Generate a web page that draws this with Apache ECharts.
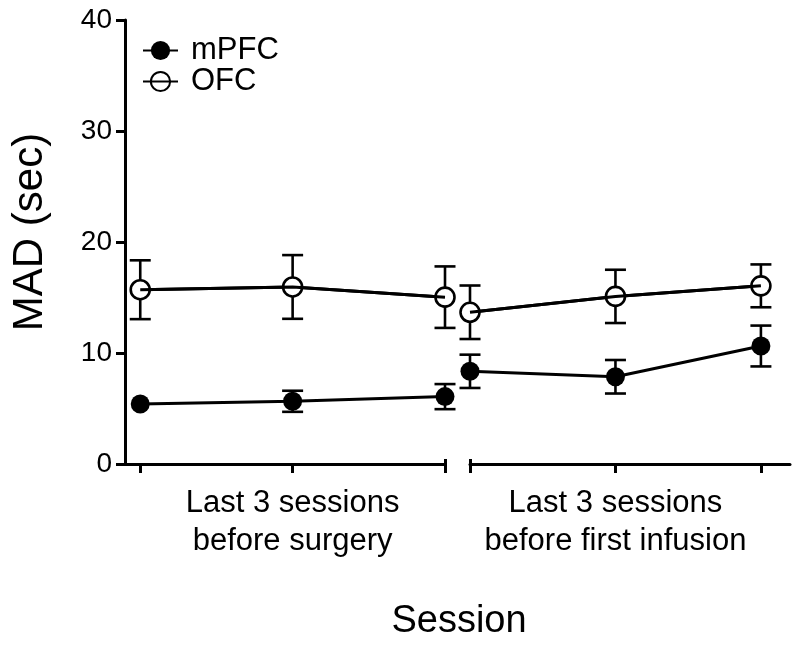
<!DOCTYPE html>
<html>
<head>
<meta charset="utf-8">
<script src="https://cdn.jsdelivr.net/npm/echarts@6/dist/echarts.min.js"></script>
<style>
html,body{margin:0;padding:0;background:#fff;}
#chart{width:800px;height:645px;}
</style>
</head>
<body>
<div id="chart"></div>
<script>
// ---- data ----
const groupLabels = ['Last 3 sessions\nbefore surgery', 'Last 3 sessions\nbefore first infusion'];
const sessionIdx = [1, 2, 3];
const yTicks = [0, 10, 20, 30, 40];
const mpfcSurgery = [5.4, 5.65, 6.07];
const mpfcSurgerySE = [0.4, 0.95, 1.13];
const ofcSurgery = [15.7, 15.95, 15.03];
const ofcSurgerySE = [2.65, 2.87, 2.77];
const mpfcInfusion = [8.35, 7.86, 10.63];
const mpfcInfusionSE = [1.5, 1.51, 1.84];
const ofcInfusion = [13.67, 15.1, 16.05];
const ofcInfusionSE = [2.41, 2.4, 1.93];

const FONT = '"Liberation Sans", Arial, Helvetica, sans-serif';
const SYMBOL = 19;
const chart = echarts.init(document.getElementById('chart'), null, {renderer: 'canvas'});

function pts(vals) { return sessionIdx.map((x, i) => [x, vals[i]]); }
function errPts(vals, se) { return sessionIdx.map((x, i) => [x, vals[i], se[i]]); }

function errRender(params, api) {
  const x = api.value(0), y = api.value(1), e = api.value(2);
  const top = api.coord([x, y + e]);
  const bot = api.coord([x, y - e]);
  // error bars shorter than the symbol are hidden behind it
  if (Math.abs(bot[1] - top[1]) / 2 <= SYMBOL / 2 + 1) return {type: 'group', children: []};
  const hw = 10.5;
  const st = {stroke: '#000', lineWidth: 2.6};
  return {
    type: 'group',
    children: [
      {type: 'line', shape: {x1: top[0], y1: top[1], x2: bot[0], y2: bot[1]}, style: st},
      {type: 'line', shape: {x1: top[0] - hw, y1: top[1], x2: top[0] + hw, y2: top[1]}, style: st},
      {type: 'line', shape: {x1: bot[0] - hw, y1: bot[1], x2: bot[0] + hw, y2: bot[1]}, style: st}
    ]
  };
}

function seriesFor(gi, mp, mpSE, of, ofSE) {
  return [
    {type: 'custom', name: 'errO' + gi, xAxisIndex: gi * 2, yAxisIndex: gi, renderItem: errRender, data: errPts(of, ofSE), z: 1, silent: true},
    {type: 'custom', name: 'errM' + gi, xAxisIndex: gi * 2, yAxisIndex: gi, renderItem: errRender, data: errPts(mp, mpSE), z: 1, silent: true},
    {type: 'line', name: 'OFC', xAxisIndex: gi * 2, yAxisIndex: gi, data: pts(of), symbol: 'circle', symbolSize: SYMBOL,
      lineStyle: {color: '#000', width: 3}, itemStyle: {color: '#fff', borderColor: '#000', borderWidth: 2.6}, z: 2},
    {type: 'line', name: 'OFCline' + gi, xAxisIndex: gi * 2, yAxisIndex: gi, data: pts(of), symbol: 'none',
      lineStyle: {color: '#000', width: 3}, z: 3, silent: true},
    {type: 'line', name: 'mPFC', xAxisIndex: gi * 2, yAxisIndex: gi, data: pts(mp), symbol: 'circle', symbolSize: SYMBOL,
      lineStyle: {color: '#000', width: 3}, itemStyle: {color: '#000', borderColor: '#000', borderWidth: 0}, z: 4}
  ];
}

function mainX(gi, min, max, labelAt, tickAt) {
  return {
    type: 'value', gridIndex: gi, min: min, max: max, position: 'bottom',
    splitLine: {show: false},
    axisLine: {show: true, lineStyle: {color: '#000', width: 3}},
    axisTick: {show: true, customValues: tickAt, length: 9, inside: false, lineStyle: {color: '#000', width: 3}},
    axisLabel: {show: true, customValues: [labelAt], margin: 20, formatter: () => groupLabels[gi],
      color: '#000', fontFamily: FONT, fontSize: 31, lineHeight: 38, align: 'center'}
  };
}
function breakX(gi, min, max, at) {
  return {
    type: 'value', gridIndex: gi, min: min, max: max, position: 'bottom',
    splitLine: {show: false}, axisLine: {show: false},
    axisTick: {show: true, customValues: [at], length: 5, inside: true, lineStyle: {color: '#000', width: 3}},
    axisLabel: {show: false}
  };
}

const option = {
  backgroundColor: '#fff',
  animation: false,
  grid: [
    {left: 125, top: 20, width: 320, bottom: 181},
    {left: 470, top: 20, width: 320, bottom: 181}
  ],
  xAxis: [
    mainX(0, 0.9, 3, 2, sessionIdx),
    breakX(0, 0.9, 3, 3),
    mainX(1, 1, 3.2, 2, sessionIdx),
    breakX(1, 1, 3.2, 1)
  ],
  yAxis: [
    {type: 'value', gridIndex: 0, min: yTicks[0], max: yTicks[yTicks.length - 1], interval: 10,
      splitLine: {show: false},
      axisLine: {show: true, lineStyle: {color: '#000', width: 3}},
      axisTick: {show: true, length: 9, lineStyle: {color: '#000', width: 3}},
      axisLabel: {color: '#000', fontFamily: FONT, fontSize: 28, margin: 13}},
    {type: 'value', gridIndex: 1, min: yTicks[0], max: yTicks[yTicks.length - 1], interval: 10, show: false}
  ],
  legend: {
    left: 137, top: 30, orient: 'vertical', itemWidth: 35, itemHeight: 24, itemGap: 0,
    data: [{name: 'mPFC'}, {name: 'OFC', itemStyle: {color: 'rgba(0,0,0,0)'}}],
    textStyle: {color: '#000', fontFamily: FONT, fontSize: 31, lineHeight: 30, padding: [0, 0, 0, 8]},
    selectedMode: false
  },
  graphic: [
    {type: 'text', x: 30, y: 232, rotation: Math.PI / 2,
      style: {text: 'MAD (sec)', fill: '#000', font: '42px ' + FONT, textAlign: 'center', textVerticalAlign: 'middle'}},
    {type: 'text', x: 459, y: 622,
      style: {text: 'Session', fill: '#000', font: '38px ' + FONT, textAlign: 'center', textVerticalAlign: 'middle'}}
  ],
  series: [].concat(
    seriesFor(0, mpfcSurgery, mpfcSurgerySE, ofcSurgery, ofcSurgerySE),
    seriesFor(1, mpfcInfusion, mpfcInfusionSE, ofcInfusion, ofcInfusionSE)
  )
};
chart.setOption(option);
</script>
</body>
</html>
